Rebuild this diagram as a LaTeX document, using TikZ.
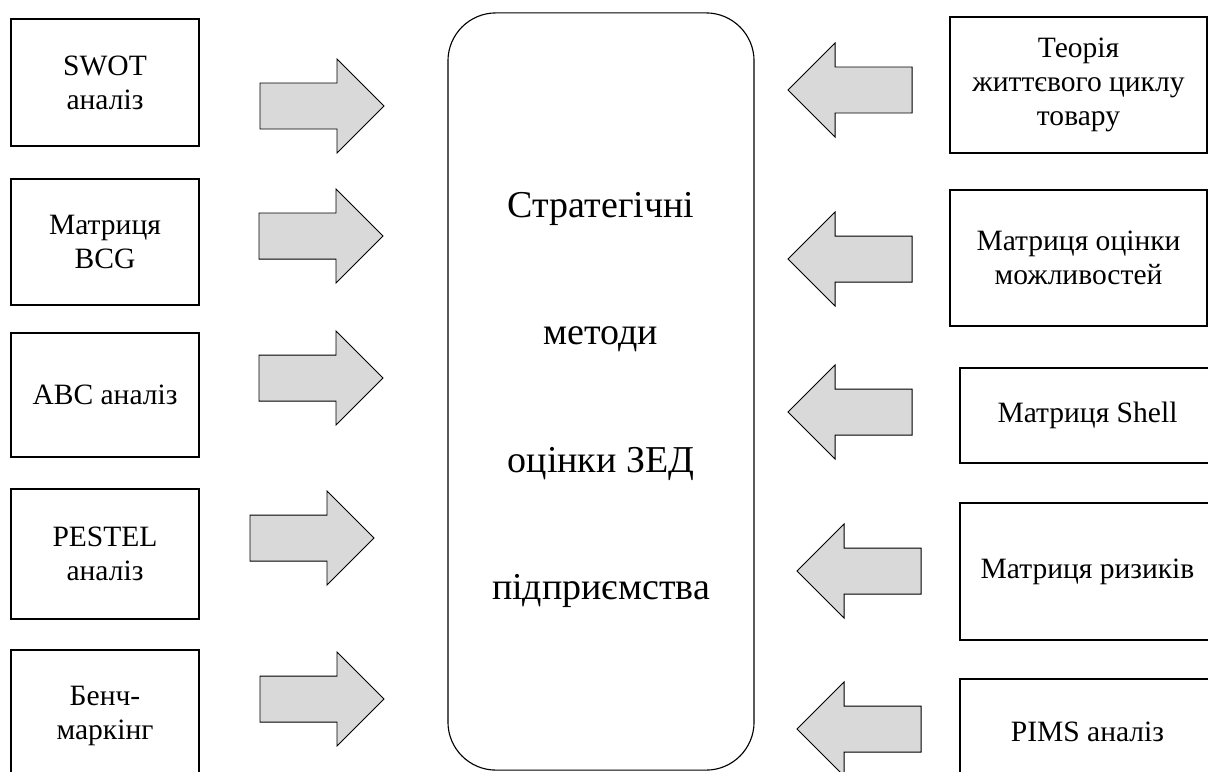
\documentclass[tikz,border=0pt]{standalone}
\usepackage{fontspec}
\setmainfont{Liberation Serif}

\definecolor{arrowgray}{HTML}{D9D9D9}
\tikzset{
  methodbox/.style={draw, line width=0.8pt, inner sep=0pt, align=center,
    font=\fontsize{21}{24}\selectfont},
  centrebox/.style={draw, line width=0.8pt, rounded corners=1.2cm, inner sep=0pt},
  centretext/.style={align=center, inner sep=0pt, font=\fontsize{27}{90.7}\selectfont},
  bigarrow/.style={fill=arrowgray, draw, line width=0.7pt, line join=miter}
}
% block arrows, given by their tip
\newcommand{\arrowright}[2]{\filldraw[bigarrow] (#1,#2) -- ++(-47,-47) -- ++(0,24) -- ++(-77,0) -- ++(0,46) -- ++(77,0) -- ++(0,24) -- cycle;}
\newcommand{\arrowleft}[2]{\filldraw[bigarrow] (#1,#2) -- ++(47,-47) -- ++(0,24) -- ++(77,0) -- ++(0,46) -- ++(-77,0) -- ++(0,24) -- cycle;}

\begin{document}
\begin{tikzpicture}[x=0.025cm, y=-0.025cm]
  \useasboundingbox (0,0) rectangle (1208,771);
  \clip (0,0) rectangle (1208,771);

  % centre
  \node[centrebox, minimum width=7.65cm, minimum height=18.925cm] (centre) at (601,391.5) {};
  \node[centretext] (title) at (601,400) {Стратегічні\\методи\\оцінки ЗЕД\\підприємства};

  % left column
  \node[methodbox, minimum width=4.7cm, minimum height=3.175cm] (swot) at (105,82.5) {SWOT\\аналіз};
  \node[methodbox, minimum width=4.7cm, minimum height=3.15cm] (bcg) at (105,242) {Матриця\\BCG};
  \node[methodbox, minimum width=4.7cm, minimum height=3.1cm] (abc) at (105,395) {ABC аналіз};
  \node[methodbox, minimum width=4.7cm, minimum height=3.25cm] (pestel) at (105,554) {PESTEL\\аналіз};
  \node[methodbox, minimum width=4.7cm, minimum height=3.3cm] (bench) at (105,716) {Бенч-\\маркінг};

  \arrowright{384}{106}
  \arrowright{383}{236}
  \arrowright{383}{378}
  \arrowright{374}{538}
  \arrowright{384}{699}

  % right column
  \node[methodbox, minimum width=6.425cm, minimum height=3.4cm] (lifecycle) at (1078.5,85) {Теорія\\життєвого циклу\\товару};
  \node[methodbox, minimum width=6.425cm, minimum height=3.4cm] (chances) at (1078.5,258) {Матриця оцінки\\можливостей};
  \node[methodbox, minimum width=6.375cm, minimum height=2.375cm] (shell) at (1087.5,415.5) {Матриця Shell};
  \node[methodbox, minimum width=6.375cm, minimum height=3.425cm] (risks) at (1087.5,571.5) {Матриця ризиків};
  \node[methodbox, minimum width=6.375cm, minimum height=2.65cm] (pims) at (1087.5,732) {PIMS аналіз};

  \arrowleft{788}{90}
  \arrowleft{788}{259}
  \arrowleft{788}{412}
  \arrowleft{797}{571}
  \arrowleft{797}{729}
\end{tikzpicture}
\end{document}
